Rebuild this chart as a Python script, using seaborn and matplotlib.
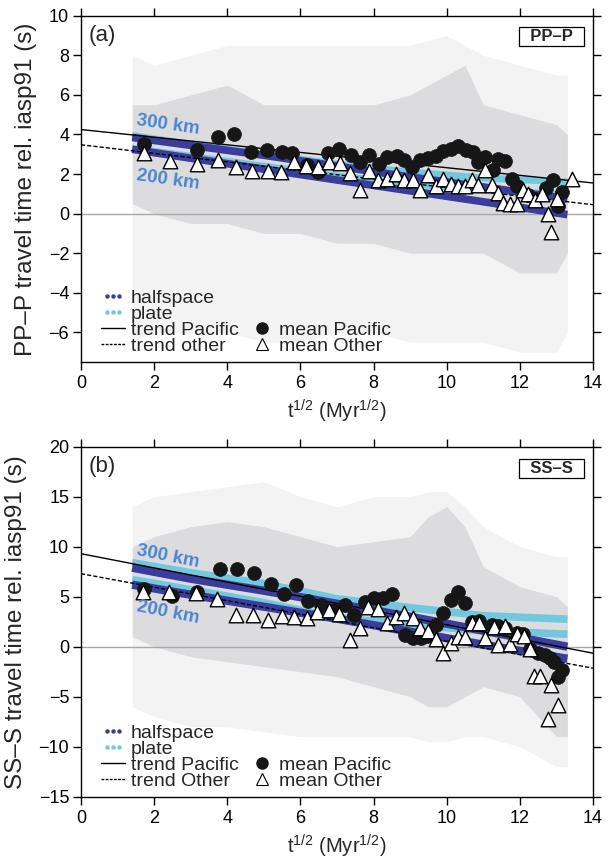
import numpy as np
import pandas as pd
import seaborn as sns
import matplotlib.pyplot as plt
from matplotlib.lines import Line2D
from matplotlib.legend_handler import HandlerLine2D

# ---- data ----
# trend lines (end points at x=0 and x=14)
trend_x = [0, 14]
pp_trend_pac = [4.25, 1.55]
pp_trend_oth = [3.48, 0.45]
ss_trend_pac = [9.3, -0.65]
ss_trend_oth = [7.3, -2.15]

# cooling models, 300 km and 200 km
model_x = [1.4, 3, 5, 7, 9, 11, 13.3]
pp_hs300 = [3.85, 3.45, 2.95, 2.40, 1.85, 1.35, 0.75]
pp_pl300 = [3.95, 3.50, 3.00, 2.50, 2.10, 1.80, 1.60]
pp_hs200 = [3.25, 2.80, 2.25, 1.70, 1.15, 0.60, -0.05]
pp_pl200 = [3.30, 2.90, 2.40, 1.90, 1.50, 1.20, 0.95]
ss_hs300 = [7.9, 6.8, 5.6, 4.3, 3.0, 1.6, 0.0]
ss_pl300 = [8.4, 7.4, 6.3, 4.8, 3.9, 3.1, 2.75]
ss_hs200 = [6.2, 5.2, 4.0, 2.8, 1.5, 0.2, -1.2]
ss_pl200 = [6.7, 5.7, 4.4, 2.9, 2.2, 1.6, 1.25]

# individual measurements, summarised as envelopes of the grey cloud
pp_cloud_x = [1.4, 2, 3, 4, 5, 6, 7, 8, 9, 10, 10.5, 11, 12, 13, 13.3]
pp_dense_hi = [5.5, 5.5, 6.0, 6.5, 5.5, 5.5, 5.5, 5.5, 6.0, 7.0, 7.5, 5.5, 5.0, 4.5, 4.0]
pp_dense_lo = [0.5, 0.0, -0.5, -0.5, -1.0, -1.0, -1.5, -1.5, -2.0, -2.0, -2.0, -2.0, -3.0, -3.0, -2.0]
pp_sparse_hi = [8.0, 7.5, 8.0, 8.5, 8.5, 8.5, 8.5, 8.5, 8.5, 9.0, 8.5, 8.0, 7.5, 7.0, 7.0]
pp_sparse_lo = [-6.5, -6.0, -6.0, -6.0, -6.5, -6.5, -6.0, -6.0, -6.5, -6.5, -6.5, -6.5, -7.0, -7.0, -6.0]

ss_cloud_x = [1.4, 2, 3, 4, 5, 6, 7, 8, 9, 9.5, 10, 10.5, 11, 12, 13, 13.3]
ss_dense_hi = [10, 11, 12, 12.5, 12, 11, 10, 10.5, 11, 13, 14, 12, 8, 6, 5, 4]
ss_dense_lo = [1, 0, -1, -1.5, -2, -2.5, -3, -4, -5, -6, -6, -5, -4, -5, -9, -9]
ss_sparse_hi = [14, 15, 15.5, 16, 16.5, 15, 14, 15, 15, 15.5, 15.5, 14, 12, 10, 9, 9]
ss_sparse_lo = [-6, -7, -8, -8, -8.5, -9, -9, -9, -9, -9.5, -9.5, -9, -9, -10, -12, -12]

# binned means, PP-P
pp_pac_x = [1.72, 3.16, 3.74, 4.19, 4.64, 5.09, 5.49, 5.78, 6.17, 6.49, 6.76, 7.06, 7.37, 7.63,
            7.88, 8.16, 8.38, 8.63, 8.83, 9.06, 9.27, 9.5, 9.7, 9.9, 10.11, 10.32, 10.53, 10.71,
            10.86, 11.05, 11.27, 11.41, 11.59, 11.78, 11.93, 12.23, 12.42, 12.72, 12.9, 13.05, 13.16]
pp_pac_y = [3.54, 3.24, 3.88, 4.01, 3.12, 3.2, 3.12, 3.04, 2.45, 2.11, 3.04, 3.29, 2.95, 2.61,
            2.95, 2.53, 2.87, 2.9, 2.7, 2.36, 2.73, 2.83, 2.9, 3.17, 3.29, 3.41, 3.2, 3.12,
            2.61, 2.87, 2.23, 2.78, 2.65, 1.77, 1.38, 0.93, 0.76, 1.32, 1.69, 0.37, 1.09]
pp_oth_x = [1.72, 2.43, 3.16, 3.74, 4.24, 4.67, 5.1, 5.47, 5.82, 6.15, 6.49, 6.79, 7.08, 7.36,
            7.63, 7.88, 8.13, 8.36, 8.61, 8.83, 9.07, 9.27, 9.5, 9.7, 9.9, 10.11, 10.3, 10.5,
            10.68, 10.85, 11.05, 11.23, 11.41, 11.55, 11.73, 11.93, 12.09, 12.23, 12.41, 12.6,
            12.76, 12.85, 13.02, 13.42]
pp_oth_y = [3.04, 2.66, 2.5, 2.7, 2.36, 2.16, 2.14, 2.09, 2.6, 2.39, 2.36, 2.61, 2.58, 2.06,
            1.18, 2.16, 1.72, 1.74, 1.99, 1.69, 1.72, 1.21, 1.94, 1.38, 1.77, 1.48, 1.38, 1.38,
            1.72, 1.43, 2.23, 1.43, 1.04, 0.54, 0.47, 0.51, 1.21, 1.01, 0.71, 1.01,
            0.0, -0.93, 0.76, 1.77]

# binned means, SS-S
ss_pac_x = [1.72, 2.48, 3.18, 3.8, 4.27, 4.73, 5.2, 5.55, 5.87, 6.22, 6.56, 6.9, 7.22, 7.47,
            7.77, 8.01, 8.27, 8.5, 8.86, 9.09, 9.3, 9.45, 9.71, 9.91, 10.11, 10.3, 10.5, 10.68,
            10.87, 11.23, 11.41, 11.59, 11.91, 12.09, 12.28, 12.5, 12.69, 12.83, 12.92, 13.05, 13.14]
ss_pac_y = [5.74, 5.1, 5.5, 7.74, 7.74, 7.4, 6.24, 5.27, 6.17, 4.6, 4.17, 3.67, 4.17, 3.17,
            4.5, 4.9, 4.84, 5.27, 1.17, 0.84, 0.9, 1.1, 2.17, 3.4, 4.67, 5.5, 4.34, 2.5,
            2.6, 2.17, 2.07, 1.84, 1.34, 1.27, -0.26, -0.6, -0.83, -1.16, -1.5, -3.0, -2.33]
ss_oth_x = [1.7, 2.41, 3.14, 3.71, 4.24, 4.69, 5.12, 5.49, 5.83, 6.17, 6.46, 6.79, 7.06, 7.36,
            7.63, 7.86, 8.13, 8.36, 8.61, 8.83, 9.07, 9.27, 9.5, 9.71, 9.91, 10.11, 10.3, 10.5,
            10.68, 10.87, 11.05, 11.28, 11.41, 11.59, 11.73, 11.93, 12.12, 12.28, 12.39, 12.55,
            12.84, 13.03, 12.76]
ss_oth_y = [5.5, 5.5, 5.4, 4.74, 3.17, 3.17, 2.67, 3.07, 3.0, 2.84, 3.5, 3.67, 3.27, 0.67,
            1.84, 3.94, 3.74, 2.4, 3.0, 3.4, 2.84, 1.84, 1.6, 0.74, -0.6, 0.34, 0.94, 0.94,
            2.34, 2.4, 0.84, 2.0, 0.17, 2.07, 0.27, 1.27, 1.07, -0.26, -2.93, -2.93,
            -3.83, -5.83, -7.26]

HS_COL = '#3b3d9c'
PL_COL = '#72c9dd'
CLOUD_DENSE = '#dcdcde'
CLOUD_SPARSE = '#f3f3f3'
KM_COL = '#4a86cf'

sns.set_style("ticks")
plt.rcParams['font.family'] = ['Liberation Sans', 'DejaVu Sans']
plt.rcParams['mathtext.fontset'] = 'custom'
plt.rcParams['mathtext.rm'] = 'Liberation Sans'
plt.rcParams['mathtext.it'] = 'Liberation Sans:italic'
plt.rcParams['axes.linewidth'] = 1.0
plt.rcParams['xtick.major.size'] = 5.5
plt.rcParams['ytick.major.size'] = 5.5
plt.rcParams['xtick.major.width'] = 1.0
plt.rcParams['ytick.major.width'] = 1.0
plt.rcParams['xtick.major.pad'] = 4
plt.rcParams['ytick.major.pad'] = 3
plt.rcParams['xtick.labelsize'] = 13
plt.rcParams['ytick.labelsize'] = 13
plt.rcParams['xtick.color'] = 'black'
plt.rcParams['ytick.color'] = 'black'

fig = plt.figure(figsize=(6.11, 8.61), dpi=100)
ax1 = fig.add_axes([81 / 611, 1 - 362 / 861, 512 / 611, 346.2 / 861])
ax2 = fig.add_axes([81 / 611, 1 - 796.7 / 861, 512 / 611, 350 / 861])


def panel(ax, cx, dlo, dhi, slo, shi, hs3, pl3, hs2, pl2, tp, to, px, py, ox, oy,
          ylim, yticks, ylabel, tag, name, other_lab, km_pos, km_rot, band_lw):
    ax.fill_between(cx, slo, shi, color=CLOUD_SPARSE, lw=0, zorder=1)
    ax.fill_between(cx, dlo, dhi, color=CLOUD_DENSE, lw=0, zorder=1.1)
    ax.axhline(0, color='#a8a8a8', lw=1.0, zorder=1.5)

    for y, col, lw in [(pl3, PL_COL, band_lw), (pl2, PL_COL, band_lw),
                       (hs3, HS_COL, band_lw + 0.5), (hs2, HS_COL, band_lw + 0.5)]:
        sns.lineplot(x=model_x, y=y, color=col, lw=lw, ax=ax, legend=False,
                     solid_capstyle='butt', zorder=2)

    sns.lineplot(x=trend_x, y=tp, color='black', lw=1.0, ax=ax, legend=False, zorder=3)
    sns.lineplot(x=trend_x, y=to, color='black', lw=1.0, ax=ax, legend=False,
                 dashes=False, linestyle=(0, (3, 1.5)), zorder=3)

    sns.scatterplot(x=px, y=py, marker='o', s=100, color='#161616', edgecolor='#161616',
                    linewidth=0.5, ax=ax, legend=False, zorder=4)
    sns.scatterplot(x=ox, y=oy, marker='^', s=110, color='white', edgecolor='black',
                    linewidth=1.0, ax=ax, legend=False, zorder=5)

    ax.text(km_pos[0][0], km_pos[0][1], '300 km', color=KM_COL, fontsize=13.5,
            fontweight='bold', rotation=km_rot, rotation_mode='anchor',
            ha='left', va='center', zorder=6)
    ax.text(km_pos[1][0], km_pos[1][1], '200 km', color=KM_COL, fontsize=13.5,
            fontweight='bold', rotation=km_rot, rotation_mode='anchor',
            ha='left', va='center', zorder=6)

    ax.set_xlim(0, 14)
    ax.set_ylim(*ylim)
    ax.set_xticks(range(0, 15, 2))
    ax.set_yticks(yticks)
    ax.tick_params(direction='out', top=True, right=True, labeltop=False, labelright=False)
    ax.set_xlabel(r't$^{1/2}$ (Myr$^{1/2}$)', fontsize=14.5, labelpad=4)
    ax.set_ylabel(ylabel, fontsize=17.5, labelpad=8)
    for s in ax.spines.values():
        s.set_visible(True)
        s.set_color('black')

    ax.text(0.014, 0.944, tag, transform=ax.transAxes, fontsize=16, ha='left', va='center')
    ax.text(0.978, 0.939, '  ' + name + '  ', transform=ax.transAxes, fontsize=12,
            fontweight='bold', ha='right', va='center',
            bbox=dict(boxstyle='square,pad=0.12', fc='white', ec='black', lw=0.9))

    h_hs = Line2D([], [], color=HS_COL, marker='o', ms=2.2, ls='none')
    h_pl = Line2D([], [], color=PL_COL, marker='o', ms=2.2, ls='none')
    h_tp = Line2D([], [], color='black', lw=1.0)
    h_to = Line2D([], [], color='black', lw=1.0, ls=(0, (2, 1)))
    h_blank = Line2D([], [], ls='none')
    h_mp = Line2D([], [], color='#161616', marker='o', ms=8, ls='none')
    h_mo = Line2D([], [], color='black', marker='^', ms=8, mfc='white', mew=0.8, ls='none')
    handles = [h_hs, h_pl, h_tp, h_to, h_blank, h_blank, h_mp, h_mo]
    labels = ['halfspace', 'plate', 'trend Pacific', other_lab, '', '', 'mean Pacific', 'mean Other']
    leg = ax.legend(handles, labels, ncol=2, loc='lower left', bbox_to_anchor=(0.04, 0.02),
                    frameon=False, fontsize=14, labelspacing=-0.08, handlelength=1.2,
                    handletextpad=0.3, columnspacing=0.6, borderpad=0, borderaxespad=0,
                    numpoints=1,
                    handler_map={h_hs: HandlerLine2D(numpoints=3),
                                 h_pl: HandlerLine2D(numpoints=3)})
    leg.set_zorder(7)


panel(ax1, pp_cloud_x, pp_dense_lo, pp_dense_hi, pp_sparse_lo, pp_sparse_hi,
      pp_hs300, pp_pl300, pp_hs200, pp_pl200, pp_trend_pac, pp_trend_oth,
      pp_pac_x, pp_pac_y, pp_oth_x, pp_oth_y,
      (-7.5, 10), range(-6, 11, 2), 'PP–P travel time rel. iasp91 (s)', '(a)', 'PP–P',
      'trend other', [(1.52, 4.7), (1.52, 1.95)], -8, 5)

panel(ax2, ss_cloud_x, ss_dense_lo, ss_dense_hi, ss_sparse_lo, ss_sparse_hi,
      ss_hs300, ss_pl300, ss_hs200, ss_pl200, ss_trend_pac, ss_trend_oth,
      ss_pac_x, ss_pac_y, ss_oth_x, ss_oth_y,
      (-15, 20), range(-15, 21, 5), 'SS–S travel time rel. iasp91 (s)', '(b)', 'SS–S',
      'trend Other', [(1.52, 9.6), (1.52, 4.0)], -11, 5.5)

fig.savefig('out.png', dpi=100)
